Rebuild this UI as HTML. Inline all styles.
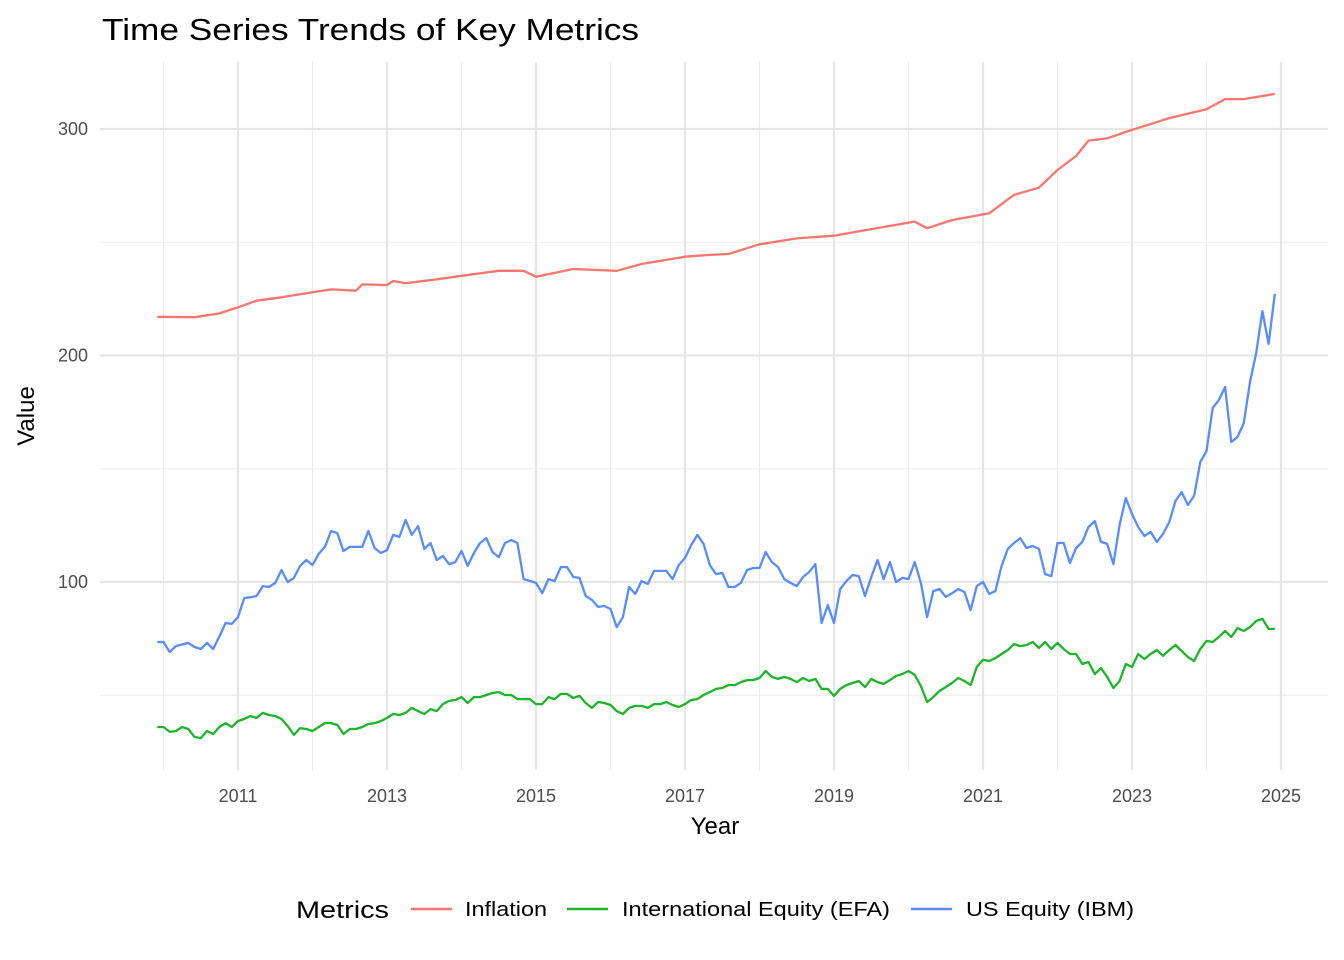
<!DOCTYPE html>
<html><head><meta charset="utf-8"><style>
body{margin:0;background:#fff;}
svg{display:block;font-family:"Liberation Sans",Arial,sans-serif;}
</style></head><body>
<svg id="chart" width="1344" height="960" viewBox="0 0 1344 960" xmlns="http://www.w3.org/2000/svg">
<rect width="1344" height="960" fill="#fff"/>
<text x="102" y="40" font-size="31" fill="#000" textLength="537" lengthAdjust="spacingAndGlyphs">Time Series Trends of Key Metrics</text>
<g id="grid"></g>
<g id="series"></g>
<g id="axes"></g>
<text x="715" y="834" font-size="24" text-anchor="middle" fill="#000">Year</text>
<text transform="translate(34,416) rotate(-90)" font-size="24" text-anchor="middle" fill="#000">Value</text>
<g>
<text x="296" y="918" font-size="24" fill="#000" textLength="93" lengthAdjust="spacingAndGlyphs">Metrics</text>
<g><line x1="411" y1="909" x2="452" y2="909" stroke="#F8766D" stroke-width="2.5"/><text x="465" y="916" font-size="20" fill="#000" textLength="82" lengthAdjust="spacingAndGlyphs">Inflation</text></g>
<g><line x1="567" y1="909" x2="608" y2="909" stroke="#1db32a" stroke-width="2.5"/><text x="622" y="916" font-size="20" fill="#000" textLength="268" lengthAdjust="spacingAndGlyphs">International Equity (EFA)</text></g>
<g><line x1="911" y1="909" x2="952" y2="909" stroke="#5a8cff" stroke-width="2.5"/><text x="966" y="916" font-size="20" fill="#000" textLength="168" lengthAdjust="spacingAndGlyphs">US Equity (IBM)</text></g>
</g>
</svg>
<script>
const startMonth = "2009-12";
const xTickYears = [2011,2013,2015,2017,2019,2021,2023,2025];
const xMinorYears = [2010,2012,2014,2016,2018,2020,2022,2024];
const yTicks = [100,200,300];
const yMinor = [50,150,250];
const ibm = [73.5,73.5,69.1,71.7,72.4,73.1,71.3,70.4,73.1,70.4,
76,81.9,81.5,84.5,92.9,93.3,93.8,98.2,97.8,99.6,
105.3,100,101.8,107.1,109.7,107.5,112.4,115.5,122.5,121.6,
113.7,115.5,115.5,115.5,122.5,115,112.8,114.1,120.8,119.9,
127.4,120.8,124.7,114.6,117.2,109.7,111.5,107.9,108.8,113.7,
107.1,112.8,117.2,119.4,113.2,111,117.2,118.5,117.2,101.3,
100.5,99.6,95.1,101.3,100.4,106.6,106.6,102.2,101.8,93.8,
92.1,89,89.4,88.1,80.1,84.5,97.8,94.7,100.4,99.1,
104.9,104.9,104.9,101.3,107.5,110.6,116.3,120.8,116.8,107.5,
103.5,104,97.8,97.8,99.6,105.3,106.2,106.2,113.2,108.8,
106.6,101.3,99.6,98.2,102.2,104.4,107.9,81.9,89.8,81.9,
96.9,100.4,103.1,102.6,93.8,102.2,109.7,101.3,108.8,100,
101.8,101.3,108.8,99.6,84.5,96,96.9,93.4,95,96.9,
95.6,87.6,98.2,100,94.7,96,107.1,114.6,117.2,119.4,
115,115.9,114.6,103.5,102.6,117.2,117.2,108.4,115,117.7,
124.3,126.9,117.7,116.8,107.9,125.2,137.1,130,124.3,120.3,
122.1,117.7,121.2,126.5,135.8,139.7,134,138,153,157.8,
176.8,180.4,186.1,161.8,164,170.2,188.3,201.1,219.6,205.1,227.2];
const efa = [36.0,36.0,33.8,34.2,36.0,35.1,31.6,31.1,34.2,32.9,
36.0,37.7,36.0,38.6,39.5,40.8,40.0,42.2,41.3,40.8,
39.5,36.4,32.5,35.5,35.1,34.2,36.0,37.7,37.7,36.9,
32.9,35.1,35.1,36.0,37.3,37.7,38.6,40.0,41.7,41.3,
42.2,44.4,43.0,41.7,43.9,43.0,46.1,47.5,47.9,49.2,
46.6,49.2,49.2,50.1,51.0,51.4,50.1,50.1,48.3,48.3,
48.3,46.1,46.1,49.2,48.3,50.6,50.6,48.8,49.7,46.6,
44.4,47.0,46.6,45.7,43.0,41.7,44.4,45.3,45.3,44.4,
46.1,46.1,47.0,45.7,44.8,46.1,47.9,48.3,50.1,51.4,
52.8,53.2,54.5,54.5,55.8,56.7,56.7,57.6,60.7,58.1,
57.2,58.1,57.2,55.8,57.6,56.3,57.2,52.8,52.8,49.7,
52.8,54.5,55.4,56.3,53.6,57.2,55.8,55.0,56.7,58.5,
59.4,60.7,59.0,54.1,47.0,49.2,51.9,53.6,55.4,57.6,
56.3,54.5,62.5,65.6,65.1,66.4,68.2,70.0,72.6,71.7,
72.2,73.5,70.9,73.5,70.4,73.1,70.4,68.2,68.2,63.8,
64.7,59.4,62.0,58.1,53.2,56.3,63.8,62.5,68.2,66.0,
68.2,70.0,67.4,70.0,72.2,69.5,66.9,65.1,70.4,74.0,
73.5,75.7,78.4,75.7,79.7,78.4,80.1,82.8,83.7,79.3,79.3];
const inflMonths = [0,6,10,13,16,20,25,28,32,33,37,38,40,45,49,55,59,61,67,74,78,85,89,92,97,103,109,115,122,124,128,134,138,142,145,148,150,153,157,163,169,172,175,180];
const inflation = [217.1,216.9,218.6,221.3,224.2,225.7,227.9,229.2,228.6,231.4,231.1,232.9,231.9,233.6,235.2,237.4,237.4,234.8,238.2,237.4,240.4,243.6,244.4,244.8,249.1,251.7,252.9,255.8,259.1,256.2,259.8,262.8,270.9,274.1,281.9,288.1,294.9,295.9,299.6,304.8,308.7,313.2,313.2,315.5];

const NS="http://www.w3.org/2000/svg";
const L=100,R=1328,T=62,B=770;
const sy=+startMonth.slice(0,4), sm=+startMonth.slice(5,7);
function xYear(yr){return 238+(yr-2011)*74.5;}
function xMonth(m){return xYear(sy+(sm-1)/12+m/12);}
function yVal(v){return 582-(v-100)*2.265;}
function mk(tag,attrs,parent){const e=document.createElementNS(NS,tag);for(const k in attrs)e.setAttribute(k,attrs[k]);parent.appendChild(e);return e;}
const grid=document.getElementById('grid'),axes=document.getElementById('axes'),series=document.getElementById('series');
yMinor.forEach(v=>{const l=mk('line',{x1:L,x2:R,y1:yVal(v),y2:yVal(v),stroke:'#ebebeb','stroke-width':1.1},grid);

});
xMinorYears.forEach(yr=>{const l=mk('line',{x1:xYear(yr),x2:xYear(yr),y1:T,y2:B,stroke:'#ebebeb','stroke-width':1.1},grid);

});
yTicks.forEach(v=>{const l=mk('line',{x1:L,x2:R,y1:yVal(v),y2:yVal(v),stroke:'#e6e6e6','stroke-width':2.2},grid);


const t=mk('text',{x:88,y:yVal(v)+6,'text-anchor':'end','font-size':18,fill:'#4d4d4d'},axes);t.textContent=v;

});
xTickYears.forEach(yr=>{const l=mk('line',{x1:xYear(yr),x2:xYear(yr),y1:T,y2:B,stroke:'#e6e6e6','stroke-width':2.2},grid);


const t=mk('text',{x:xYear(yr),y:802,'text-anchor':'middle','font-size':18,fill:'#4d4d4d'},axes);t.textContent=yr;

});
function line(ms,vals,color,name){const d=vals.map((v,i)=>(i?'L':'M')+xMonth(ms?ms[i]:i).toFixed(1)+','+yVal(v).toFixed(1)).join('');
const p=mk('path',{d:d,fill:'none',stroke:color,'stroke-width':2.3,'stroke-linejoin':'round'},series);

}
line(inflMonths,inflation,'#F8766D','inflation-line');
line(null,efa,'#1db32a','efa-line');
line(null,ibm,'#5a8cff','ibm-line');
</script>
</body></html>
